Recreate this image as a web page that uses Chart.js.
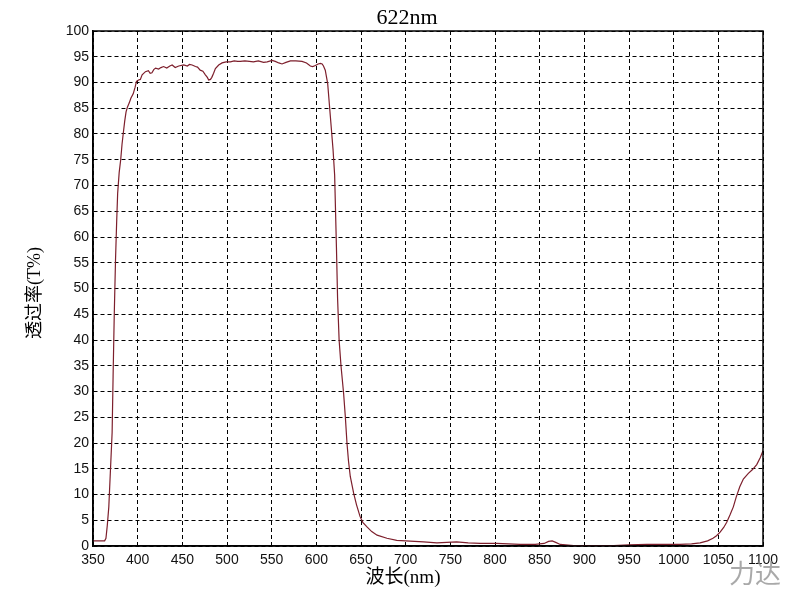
<!DOCTYPE html>
<html>
<head>
<meta charset="utf-8">
<script src="https://cdn.jsdelivr.net/npm/chart.js@4/dist/chart.umd.min.js"></script>
<style>
  html, body { margin: 0; padding: 0; background: #fff; }
  #wrap { width: 789px; height: 594px; position: relative; }
</style>
</head>
<body>
<div id="wrap"><canvas id="spectrum"></canvas></div>
<script>
// wavelength (nm) and transmittance (%)
var wavelengths = [350, 355, 360, 363, 364.5, 366, 367.7, 369.6, 371.4, 372.5, 373.8, 375.2, 376.5, 377.6, 379.3, 381, 382.5, 383.8, 385.5, 387, 388.5, 390.5, 392.5, 395, 397, 398.7, 401, 403, 405, 408.7, 412, 414, 416, 418, 420, 423.5, 426, 429, 432.6, 436, 438.6, 442, 446, 451.6, 455.6, 458, 461, 464.7, 467, 470, 473, 475.8, 478, 479.5, 481.5, 483, 485, 487, 490.7, 494.5, 499, 503.8, 508, 512, 515, 520, 525, 529.6, 535, 541, 545, 550.5, 554, 558, 561.6, 566, 571, 577, 584, 589, 593.3, 596, 599, 602, 604.5, 606.5, 608, 610, 612.7, 615.7, 618.7, 620.5, 621.5, 622.5, 623.8, 625.5, 627.6, 630.5, 632.5, 634.3, 636, 638, 641.7, 645, 649, 652, 656.7, 662, 668, 679, 690, 700, 720, 735, 746, 757, 770, 783.5, 802, 815, 828, 845, 855, 860, 864, 868, 873, 888, 910, 933, 950, 970, 990, 1007, 1020, 1029.6, 1038, 1044, 1048, 1052, 1056, 1059.4, 1063, 1066.8, 1070, 1074, 1078, 1083.6, 1088, 1093, 1097, 1100];
var transmittance = [1.0, 1.0, 1.0, 1.0, 1.5, 4.0, 7.6, 15, 22, 33, 45, 55.5, 63, 68.5, 72.5, 75, 78, 80, 82.5, 84.3, 85.2, 86, 87, 87.8, 89, 90.2, 90.5, 90.6, 91.5, 92.1, 92.3, 91.8, 91.9, 92.5, 92.8, 92.6, 92.9, 93.1, 92.8, 93.2, 93.4, 92.9, 93.2, 93.4, 93.2, 93.5, 93.4, 93.1, 93.0, 92.4, 92.2, 91.5, 91.0, 90.5, 90.6, 91.0, 91.8, 92.7, 93.4, 93.8, 94.0, 94.0, 94.2, 94.1, 94.1, 94.2, 94.1, 94.0, 94.2, 93.9, 94.0, 94.3, 94.1, 93.8, 93.6, 93.9, 94.2, 94.2, 94.1, 93.8, 93.2, 93.1, 93.3, 93.6, 93.7, 93.6, 93.2, 92.4, 89.8, 83.4, 77, 72, 65, 58, 48, 40, 35, 29.7, 25, 20, 16.5, 13.5, 10.3, 8, 5.7, 4.6, 3.7, 2.8, 2.1, 1.5, 1.1, 1.0, 0.8, 0.6, 0.7, 0.8, 0.6, 0.5, 0.5, 0.4, 0.3, 0.3, 0.5, 0.9, 1.0, 0.7, 0.3, 0.1, 0.1, 0.1, 0.2, 0.3, 0.3, 0.3, 0.4, 0.6, 1.0, 1.5, 2.0, 2.7, 3.6, 4.6, 6, 7.6, 9.5, 11.5, 13, 14.1, 14.8, 15.8, 17.2, 18.5];

var chartTitle = '622nm';
var xTitle = '波长(nm)';
var yTitle = '透过率(T%)';
var watermark = '力达';

var points = [];
for (var i = 0; i < wavelengths.length; i++) {
    points.push({x: wavelengths[i], y: transmittance[i]});
}

// frame, title, axis names and the watermark
var extras = {
    id: 'extras',
    beforeDraw: function(chart) {
        var c = chart.ctx;
        c.save();
        c.fillStyle = '#fff';
        c.fillRect(0, 0, chart.width, chart.height);
        c.restore();
    },
    afterDraw: function(chart) {
        var c = chart.ctx, a = chart.chartArea;
        c.save();
        c.strokeStyle = '#000';
        c.lineWidth = 1.5;
        c.strokeRect(a.left, a.top, a.right - a.left, a.bottom - a.top);

        c.fillStyle = '#000';
        c.textAlign = 'center';
        c.textBaseline = 'middle';
        c.font = '22px "Liberation Serif", serif';
        c.fillText(chartTitle, 407, 18);

        c.font = '19px "Liberation Serif", "Noto Sans CJK SC", serif';
        c.fillText(xTitle, 403, 578);

        c.translate(35, 293);
        c.rotate(-Math.PI / 2);
        c.font = '18px "Liberation Serif", "Noto Sans CJK SC", serif';
        c.fillText(yTitle, 0, 0);
        c.restore();

        c.save();
        c.fillStyle = 'rgba(140,140,140,0.75)';
        c.font = '26px "Noto Sans CJK SC", sans-serif';
        c.textAlign = 'center';
        c.textBaseline = 'middle';
        c.fillText(watermark, 755, 573);
        c.restore();
    }
};

var ctx = document.getElementById('spectrum');
var chart = new Chart(ctx, {
    type: 'line',
    data: {
        datasets: [{
            data: points,
            borderColor: '#7d1f2c',
            borderWidth: 1.2,
            pointRadius: 0,
            tension: 0,
            fill: false
        }]
    },
    options: {
        responsive: true,
        maintainAspectRatio: false,
        animation: false,
        layout: { padding: { left: 0, top: 31, right: 26, bottom: 0 } },
        plugins: {
            legend: { display: false },
            tooltip: { enabled: false }
        },
        scales: {
            x: {
                type: 'linear',
                min: 350,
                max: 1100,
                ticks: { stepSize: 50, padding: 6, color: '#111', maxRotation: 0,
                         callback: function(value) { return String(value); },
                         font: { family: '"Liberation Sans", Arial, sans-serif', size: 14 } },
                grid: { color: '#000', lineWidth: 1, drawTicks: false },
                border: { display: true, color: '#000', width: 1.5, dash: [4, 3] },
                afterFit: function(scale) { scale.height = 48; }
            },
            y: {
                min: 0,
                max: 100,
                ticks: { stepSize: 5, padding: 4, color: '#111',
                         font: { family: '"Liberation Sans", Arial, sans-serif', size: 14 } },
                grid: { color: '#000', lineWidth: 1, drawTicks: false },
                border: { display: true, color: '#000', width: 1.5, dash: [4, 3] },
                afterFit: function(scale) { scale.width = 93; }
            }
        }
    },
    plugins: [extras]
});
</script>
</body>
</html>
